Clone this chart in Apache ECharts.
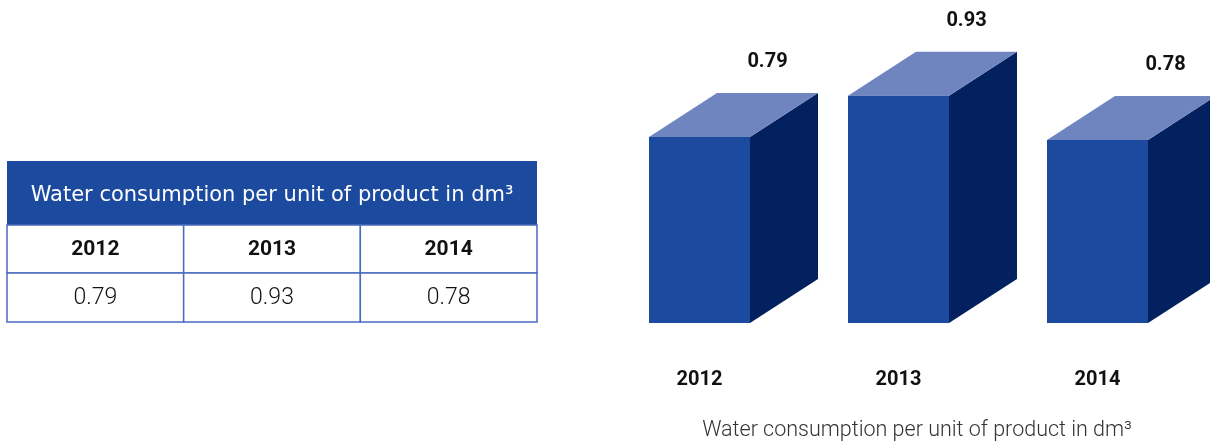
<!DOCTYPE html>
<html>
<head>
<meta charset="utf-8">
<script src="https://cdn.jsdelivr.net/npm/echarts@6/dist/echarts.min.js"></script>
<style>
html,body{margin:0;padding:0;background:#fff;}
#chart{width:1210px;height:441px;}
</style>
</head>
<body>
<div id="chart"></div>
<script>
// ---- data ----
const categories = ['2012', '2013', '2014'];
const values = [0.79, 0.93, 0.78];
const tableTitle = 'Water consumption per unit of product in dm\u00B3';
const captionText = 'Water consumption per unit of product in dm\u00B3';

// ---- styles ----
const FONT = 'Roboto, "Noto Sans", sans-serif';
const FRONT = '#1b4a9e';
const SIDE = '#03215f';
const TOP = '#6e85c0';
const BORDER = '#4a6cc0';
const Y_MIN = 0.16, Y_MAX = 1.2;
const FRONT_W = 101, DX = 68, DY = -44;

// ---- table (graphic) ----
const tbl = { x: 7, y: 161, w: 530, headH: 64, rowH: [48, 49] };
const colW = tbl.w / categories.length;
const tableGraphics = [];
tableGraphics.push({
  type: 'rect', shape: { x: tbl.x, y: tbl.y, width: tbl.w, height: tbl.headH },
  style: { fill: FRONT }
});
tableGraphics.push({
  type: 'text',
  style: { text: tableTitle, x: tbl.x + tbl.w / 2, y: tbl.y + tbl.headH / 2 + 3, align: 'center', verticalAlign: 'middle',
    font: 'normal 21px "DejaVu Sans", ' + FONT, fill: '#ffffff' }
});
let ry = tbl.y + tbl.headH;
[0, 1].forEach(function (r) {
  categories.forEach(function (c, i) {
    const cx = tbl.x + i * colW;
    tableGraphics.push({
      type: 'rect', shape: { x: cx, y: ry, width: colW, height: tbl.rowH[r] },
      style: { fill: '#ffffff', stroke: BORDER, lineWidth: 1.5 }
    });
    tableGraphics.push({
      type: 'text',
      style: {
        text: r === 0 ? c : values[i].toFixed(2),
        x: cx + colW / 2, y: ry + tbl.rowH[r] / 2 + 1,
        align: 'center', verticalAlign: 'middle',
        font: (r === 0 ? 'bold 21px ' : '300 23px ') + FONT,
        fill: '#111111'
      }
    });
  });
  ry += tbl.rowH[r];
});

const chart = echarts.init(document.getElementById('chart'), null, { renderer: 'canvas' });
chart.setOption({
  animation: false,
  backgroundColor: '#ffffff',
  title: {
    text: captionText,
    left: 912, top: 415,
    textAlign: 'center',
    textStyle: { fontFamily: FONT, fontWeight: 300, fontSize: 21.5, color: '#333333' }
  },
  grid: { left: 600, right: 13, top: 16, bottom: 118 },
  xAxis: {
    type: 'category', data: categories,
    axisLine: { show: false }, axisTick: { show: false },
    axisLabel: { margin: 47, fontFamily: FONT, fontWeight: 'bold', fontSize: 20, color: '#111111' }
  },
  yAxis: {
    type: 'value', min: Y_MIN, max: Y_MAX,
    show: false, splitLine: { show: false }
  },
  graphic: tableGraphics,
  series: [{
    type: 'custom',
    clip: false,
    data: values.map(function (v, i) { return [i, v]; }),
    renderItem: function (params, api) {
      const idx = api.value(0);
      const v = api.value(1);
      const top = api.coord([idx, v]);
      const bot = api.coord([idx, Y_MIN]);
      const x0 = top[0] - FRONT_W / 2, x1 = x0 + FRONT_W;
      const ty = top[1], by = bot[1];
      return {
        type: 'group',
        children: [
          { type: 'polygon', shape: { points: [[x1, ty], [x1 + DX, ty + DY], [x1 + DX, by + DY], [x1, by]] },
            style: { fill: SIDE } },
          { type: 'polygon', shape: { points: [[x0, ty], [x0 + DX, ty + DY], [x1 + DX, ty + DY], [x1, ty]] },
            style: { fill: TOP } },
          { type: 'rect', shape: { x: x0, y: ty, width: FRONT_W, height: by - ty },
            style: { fill: FRONT } },
          { type: 'text', style: { text: v.toFixed(2), x: top[0] + DX, y: ty + DY - 31,
              align: 'center', verticalAlign: 'middle', font: 'bold 20px ' + FONT, fill: '#111111' } }
        ]
      };
    }
  }]
});
</script>
</body>
</html>
